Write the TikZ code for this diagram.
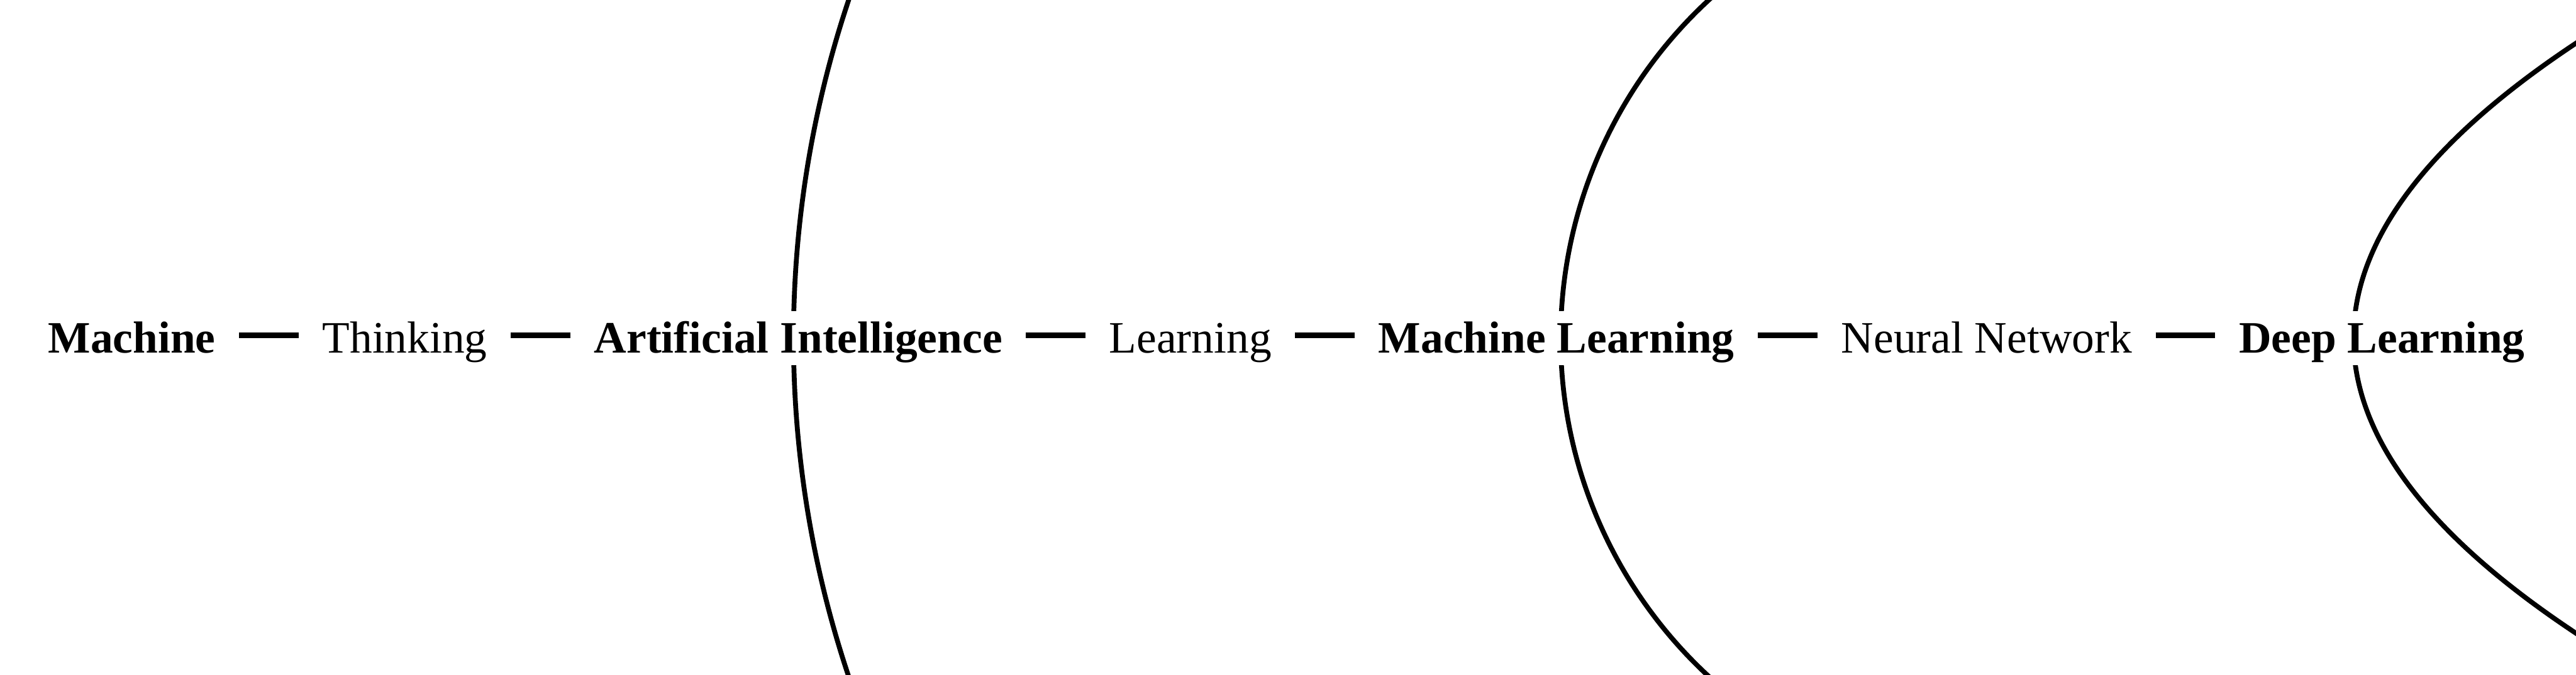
\documentclass[tikz,border=0pt]{standalone}
\usepackage{fontspec}
\setmainfont{Liberation Serif}
\usetikzlibrary{positioning}

\begin{document}
\begin{tikzpicture}[
    line width=2.2pt,
    word/.style={fill=white, inner xsep=0pt, inner ysep=0.6mm,
                 text height=6mm, text depth=1.4mm,
                 font=\fontsize{20.4pt}{24pt}\selectfont},
    link/.style={line width=2.6pt, shorten <=3.4mm, shorten >=3.4mm},
    node distance=1.63cm]
  \useasboundingbox (0,0) rectangle (41.10,10.77);

  % nested fields (AI > ML > DL), cut at the frame
  \begin{scope}
    \clip (0,0) rectangle (41.10,10.77);
    \draw (29.66,5.37) ++(160:17) arc[start angle=160, end angle=200, radius=17];
    \draw (32.25,5.37) ++(130:7.35) arc[start angle=130, end angle=230, radius=7.35];
    \draw (43.31,11.37) .. controls (35.63,7.37) and (35.63,3.37) .. (43.31,-0.63);
  \end{scope}

  % chain of terms
  \node[word, anchor=base west] (M) at (0.73,5.14) {\textbf{Machine}};
  \node[word, right=of M]  (T)  {Thinking};
  \node[word, right=of T]  (AI) {\textbf{Artificial Intelligence}};
  \node[word, right=of AI] (L)  {Learning};
  \node[word, right=of L]  (ML) {\textbf{Machine Learning}};
  \node[word, right=of ML] (NN) {Neural Network};
  \node[word, right=of NN] (DL) {\textbf{Deep Learning}};

  % dashes between the terms
  \foreach \a/\b in {M/T, T/AI, AI/L, L/ML, ML/NN, NN/DL}
    \draw[link] ([yshift=.45mm]\a.east) -- ([yshift=.45mm]\b.west);
\end{tikzpicture}
\end{document}
